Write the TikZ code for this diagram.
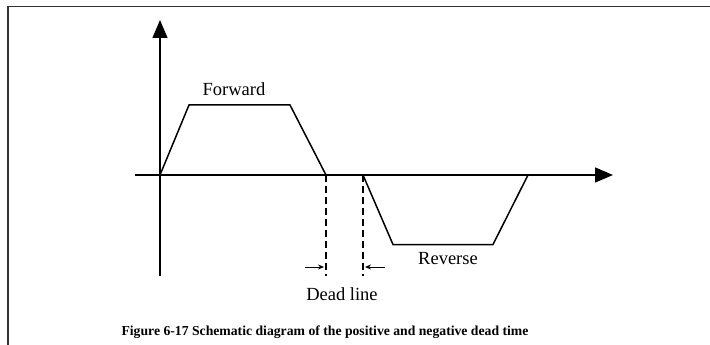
\documentclass[tikz,border=0pt]{standalone}
\usepackage{fontspec}
\setmainfont{Liberation Serif}
\usetikzlibrary{arrows.meta}
\tikzset{
  frame/.style={line width=1.2pt, draw=black!80},
  axis/.style={line width=1.5pt, -{Triangle[length=18pt,width=15pt]}},
  curve/.style={line width=1.5pt, line join=miter},
  deadline/.style={line width=1.4pt, dash pattern=on 7pt off 4pt},
  smallarrow/.style={line width=0.8pt, -{Stealth[length=6pt,width=5pt]}},
  lbl/.style={inner sep=0pt, font=\fontsize{18.5}{20}\selectfont},
  caption/.style={inner sep=0pt, font=\fontsize{13.7}{15}\selectfont\bfseries}
}
\begin{document}
\begin{tikzpicture}[x=1pt,y=-1pt]
\useasboundingbox (0,0) rectangle (710,345);
% frame
\coordinate (fl) at (8,345);
\coordinate (ftl) at (8,6.5);
\coordinate (ftr) at (710,6.5);
\draw[frame] (fl) -- (ftl) -- (ftr);
% axes
\coordinate (O) at (160,175);
\coordinate (yb) at (160,276);
\coordinate (yt) at (160,20);
\coordinate (xl) at (135,175);
\coordinate (xr) at (613,175);
\draw[axis] (yb) -- (yt);
\draw[axis] (xl) -- (xr);
% forward trapezoid
\coordinate (f1) at (189,105);
\coordinate (f2) at (290,105);
\coordinate (f3) at (326,175);
\draw[curve] (O) -- (f1) -- (f2) -- (f3);
% reverse trapezoid
\coordinate (r0) at (363,175);
\coordinate (r1) at (393,244.5);
\coordinate (r2) at (493,244.5);
\coordinate (r3) at (528,175);
\draw[curve] (r0) -- (r1) -- (r2) -- (r3);
% dead lines
\coordinate (d1b) at (326,276);
\coordinate (d2b) at (363,276);
\draw[deadline] (f3) -- (d1b);
\draw[deadline] (r0) -- (d2b);
% small arrows
\coordinate (a1s) at (305,267);
\coordinate (a1e) at (324,267);
\coordinate (a2s) at (385,267);
\coordinate (a2e) at (365,267);
\draw[smallarrow] (a1s) -- (a1e);
\draw[smallarrow] (a2s) -- (a2e);
% labels
\node[lbl] (fwd) at (234,89) {Forward};
\node[lbl] (rev) at (448,259) {Reverse};
\node[lbl] (dl) at (342,294) {Dead line};
\node[caption] (cap) at (325,332) {Figure 6-17 Schematic diagram of the positive and negative dead time};
\end{tikzpicture}
\end{document}
